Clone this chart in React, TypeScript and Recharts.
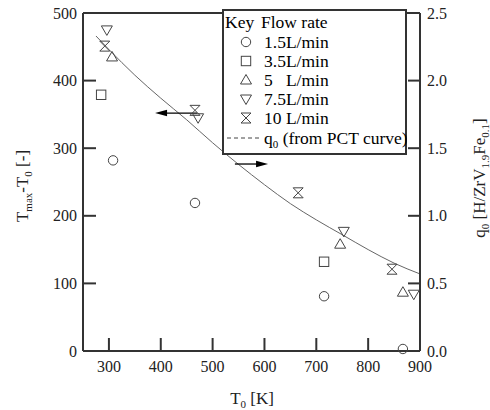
import React from 'react';
import {
  ComposedChart,
  Scatter,
  Line,
  XAxis,
  YAxis,
  ReferenceLine,
  Legend,
} from 'recharts';

// T0 [K] vs Tmax - T0 [-], per flow rate
const flow15 = [
  { x: 308, y: 282 },
  { x: 466, y: 219 },
  { x: 715, y: 81 },
  { x: 867, y: 3 },
];
const flow35 = [
  { x: 285, y: 379 },
  { x: 715, y: 132 },
];
const flow5 = [
  { x: 306, y: 435 },
  { x: 746, y: 158 },
  { x: 867, y: 87 },
];
const flow75 = [
  { x: 296, y: 475 },
  { x: 472, y: 345 },
  { x: 753, y: 177 },
  { x: 888, y: 84 },
];
const flow10 = [
  { x: 292, y: 451 },
  { x: 466, y: 356 },
  { x: 665, y: 234 },
  { x: 846, y: 121 },
];

// q0 from PCT curve (right axis)
const curveT = [275, 300, 350, 400, 450, 500, 550, 600, 650, 700, 750, 800, 850, 900];
const curveQ = [2.33, 2.23, 2.04, 1.87, 1.71, 1.54, 1.38, 1.23, 1.09, 0.97, 0.86, 0.75, 0.65, 0.57];
const curve = curveT.map((x, i) => ({ x, q: curveQ[i] }));

const xTicks = [300, 400, 500, 600, 700, 800, 900];
const leftTicks = [0, 100, 200, 300, 400, 500];
const rightTicks = [0, 0.5, 1.0, 1.5, 2.0, 2.5];

// arrows pointing to the axis each series belongs to
const leftArrow = [{ x: 470, y: 352 }, { x: 389, y: 352 }];
const rightArrow = [{ x: 543, y: 1.383 }, { x: 607, y: 1.383 }];

const FONT = '"Liberation Serif", "Times New Roman", serif';
const AX = '#333';
const MK = '#444';

type GlyphKind = 'circle' | 'square' | 'up' | 'down' | 'hour';

const Glyph = ({ cx, cy, kind }: { cx: number; cy: number; kind: GlyphKind }) => {
  const p = { fill: 'none', stroke: MK, strokeWidth: 1 };
  switch (kind) {
    case 'circle':
      return <circle cx={cx} cy={cy} r={4.7} {...p} />;
    case 'square':
      return <rect x={cx - 4.7} y={cy - 4.7} width={9.4} height={9.4} {...p} />;
    case 'up':
      return <path d={`M${cx},${cy - 5.5}L${cx + 5.5},${cy + 4}L${cx - 5.5},${cy + 4}Z`} {...p} />;
    case 'down':
      return <path d={`M${cx},${cy + 5.5}L${cx + 5.5},${cy - 4}L${cx - 5.5},${cy - 4}Z`} {...p} />;
    default:
      return <path d={`M${cx - 5},${cy - 5}H${cx + 5}L${cx - 5},${cy + 5}H${cx + 5}Z`} {...p} />;
  }
};

const glyphShape = (kind: GlyphKind) => (props: any) => (
  <Glyph cx={props.cx} cy={props.cy} kind={kind} />
);

const arrowShape = (props: any) => {
  const { x1, y1, x2, y2 } = props;
  const dir = x2 > x1 ? 1 : -1;
  return (
    <g>
      <line x1={x1} y1={y1} x2={x2 - dir * 8} y2={y2} stroke="#000" strokeWidth={1.3} />
      <path d={`M${x2},${y2}L${x2 - dir * 12},${y2 - 3.2}L${x2 - dir * 12},${y2 + 3.2}Z`} fill="#000" />
    </g>
  );
};

const BottomTick = (props: any) => {
  const { x, y, payload } = props;
  const axisY = y - 10;
  return (
    <g>
      {payload.value < 900 && (
        <line x1={x} x2={x} y1={axisY} y2={axisY - 13} stroke={AX} strokeWidth={2} />
      )}
      <text x={x} y={y} dy="0.71em" textAnchor="middle" fontFamily={FONT} fontSize={16} fill="#222">
        {payload.value}
      </text>
    </g>
  );
};

const LeftTick = (props: any) => {
  const { x, y, payload } = props;
  const axisX = x + 6;
  return (
    <g>
      {payload.value > 0 && payload.value < 500 && (
        <line x1={axisX} x2={axisX + 13} y1={y} y2={y} stroke={AX} strokeWidth={2} />
      )}
      <text x={x} y={y} dy="0.35em" textAnchor="end" fontFamily={FONT} fontSize={16} fill="#222">
        {payload.value}
      </text>
    </g>
  );
};

const RightTick = (props: any) => {
  const { x, y, payload } = props;
  const axisX = x - 7;
  return (
    <g>
      {payload.value > 0 && payload.value < 2.5 && (
        <line x1={axisX} x2={axisX - 12} y1={y} y2={y} stroke={AX} strokeWidth={2} />
      )}
      <text x={x} y={y} dy="0.35em" textAnchor="start" fontFamily={FONT} fontSize={16} fill="#222">
        {Number(payload.value).toFixed(1)}
      </text>
    </g>
  );
};

const subStyle = { fontSize: 11 };

const XLabel = () => (
  <text x={252} y={404} textAnchor="middle" fontFamily={FONT} fontSize={17} fill="#222">
    T<tspan dy={4} style={subStyle}>0</tspan>
    <tspan dy={-4}> [K]</tspan>
  </text>
);

const LeftLabel = () => (
  <text
    x={28}
    y={186}
    transform="rotate(-90 28 186)"
    textAnchor="middle"
    fontFamily={FONT}
    fontSize={17}
    fill="#222"
  >
    T<tspan dy={4} style={subStyle}>max</tspan>
    <tspan dy={-4}>-T</tspan>
    <tspan dy={4} style={subStyle}>0</tspan>
    <tspan dy={-4}> [-]</tspan>
  </text>
);

const RightLabel = () => (
  <text
    x={485}
    y={178}
    transform="rotate(-90 485 178)"
    textAnchor="middle"
    fontFamily={FONT}
    fontSize={17}
    fill="#222"
  >
    q<tspan dy={4} style={subStyle}>0</tspan>
    <tspan dy={-4}> [H/ZrV</tspan>
    <tspan dy={4} style={subStyle}>1.9</tspan>
    <tspan dy={-4}>Fe</tspan>
    <tspan dy={4} style={subStyle}>0.1</tspan>
    <tspan dy={-4}>]</tspan>
  </text>
);

const legendRows: { kind: GlyphKind; label: string }[] = [
  { kind: 'circle', label: '1.5L/min' },
  { kind: 'square', label: '3.5L/min' },
  { kind: 'up', label: '5\u00a0\u00a0\u00a0L/min' },
  { kind: 'down', label: '7.5L/min' },
  { kind: 'hour', label: '10 L/min' },
];

const KeyBox = () => (
  <div
    style={{
      width: 185,
      height: 146,
      border: `2px solid ${AX}`,
      background: '#fff',
      fontFamily: FONT,
      fontSize: 17.5,
      color: '#222',
      boxSizing: 'border-box',
      position: 'relative',
    }}
  >
    <svg width={185} height={146} style={{ position: 'absolute', left: -2, top: -2 }}>
      <text x={3} y={19}>
        Key
      </text>
      <text x={39} y={19}>
        Flow rate
      </text>
      {legendRows.map((r, i) => (
        <g key={r.label}>
          <Glyph cx={24} cy={33 + i * 19} kind={r.kind} />
          <text x={42} y={39 + i * 19}>
            {r.label}
          </text>
        </g>
      ))}
      <line x1={5} x2={39} y1={129} y2={129} stroke={MK} strokeWidth={1} strokeDasharray="4 3" />
      <text x={42} y={135}>
        q<tspan dy={4} fontSize={11}>0</tspan>
        <tspan dy={-4}> (from PCT curve)</tspan>
      </text>
    </svg>
  </div>
);

export default function App() {
  return (
    <div style={{ position: 'absolute', left: 0, top: 0, background: '#fff' }}>
      <ComposedChart width={490} height={410} margin={{ top: 13, right: 0, bottom: 0, left: 0 }}>
        <XAxis
          xAxisId="b"
          dataKey="x"
          type="number"
          domain={[250, 900]}
          ticks={xTicks}
          allowDataOverflow
          tickSize={0}
          tickMargin={10}
          height={59}
          axisLine={{ stroke: AX, strokeWidth: 2 }}
          tickLine={false}
          tick={<BottomTick />}
          label={<XLabel />}
        />
        <YAxis
          yAxisId="left"
          type="number"
          domain={[0, 500]}
          ticks={leftTicks}
          tickSize={0}
          tickMargin={6}
          width={83}
          axisLine={{ stroke: AX, strokeWidth: 2 }}
          tickLine={false}
          tick={<LeftTick />}
          label={<LeftLabel />}
        />
        <YAxis
          yAxisId="right"
          orientation="right"
          type="number"
          domain={[0, 2.5]}
          ticks={rightTicks}
          tickSize={0}
          tickMargin={7}
          width={70}
          axisLine={{ stroke: AX, strokeWidth: 2 }}
          tickLine={false}
          tick={<RightTick />}
          label={<RightLabel />}
        />
        <ReferenceLine xAxisId="b" yAxisId="left" y={500} stroke={AX} strokeWidth={2} />
        <Line
          xAxisId="b"
          yAxisId="right"
          data={curve}
          dataKey="q"
          type="monotone"
          stroke="#666"
          strokeWidth={1}
          dot={false}
          isAnimationActive={false}
        />
        <ReferenceLine
          xAxisId="b"
          yAxisId="left"
          segment={leftArrow}
          shape={arrowShape}
        />
        <ReferenceLine
          xAxisId="b"
          yAxisId="right"
          segment={rightArrow}
          shape={arrowShape}
        />
        <Scatter xAxisId="b" yAxisId="left" data={flow15} dataKey="y" shape={glyphShape('circle')} isAnimationActive={false} />
        <Scatter xAxisId="b" yAxisId="left" data={flow35} dataKey="y" shape={glyphShape('square')} isAnimationActive={false} />
        <Scatter xAxisId="b" yAxisId="left" data={flow5} dataKey="y" shape={glyphShape('up')} isAnimationActive={false} />
        <Scatter xAxisId="b" yAxisId="left" data={flow75} dataKey="y" shape={glyphShape('down')} isAnimationActive={false} />
        <Scatter xAxisId="b" yAxisId="left" data={flow10} dataKey="y" shape={glyphShape('hour')} isAnimationActive={false} />
        <Legend
          layout="vertical"
          align="center"
          verticalAlign="middle"
          wrapperStyle={{ left: 222, top: 9, width: 185 }}
          content={() => <KeyBox />}
        />
      </ComposedChart>
    </div>
  );
}
